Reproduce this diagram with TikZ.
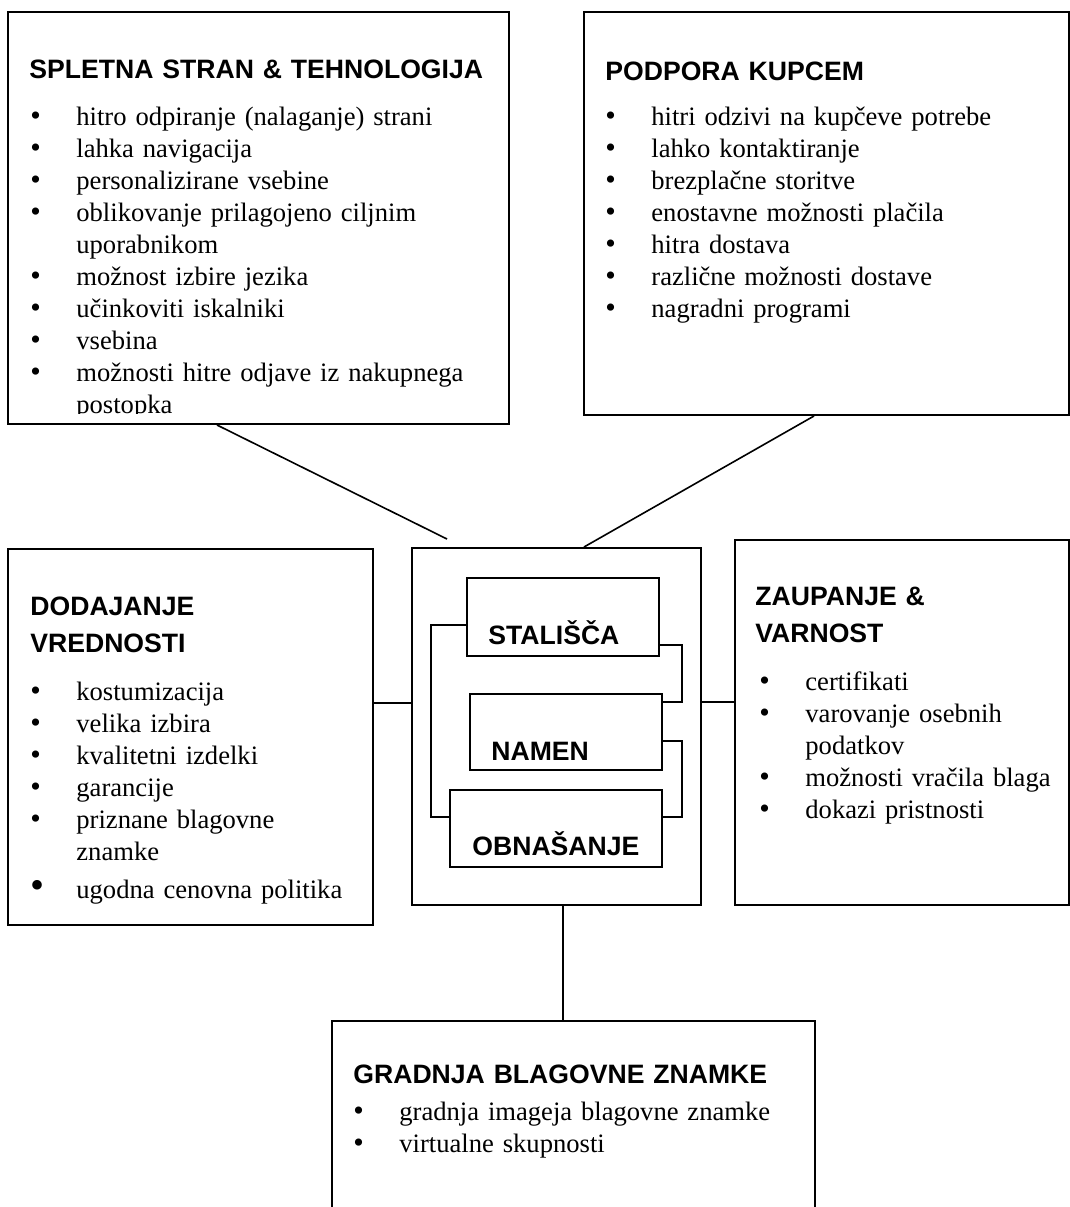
\documentclass[tikz,border=0pt]{standalone}
\usepackage{fontspec}
\setmainfont{Liberation Serif}
\newfontfamily\headfnt{Liberation Sans Bold}
\usetikzlibrary{fit}

\newcommand\bul{\makebox[23pt][l]{\fontsize{15}{16}\selectfont\textbullet}}
\newcommand\bigbul{\makebox[23pt][l]{\fontsize{20}{16}\selectfont\textbullet}}
\newcommand\cont{\hspace*{23pt}}

\begin{document}
\begin{tikzpicture}[x=0.5pt,y=-0.5pt,
 panel/.style={draw,line width=1pt,inner sep=0pt},
 heading/.style={anchor=base west,inner sep=0pt,align=left,text width=300pt,
   font=\headfnt\fontsize{13.3}{18.5}\selectfont},
 items/.style={anchor=base west,inner sep=0pt,align=left,text width=300pt,
   font=\fontsize{13.3}{16}\selectfont},
 core label/.style={anchor=base west,inner sep=0pt,
   font=\headfnt\fontsize{13.3}{14}\selectfont},
 link/.style={line width=0.8pt}]
 \useasboundingbox (0,0) rectangle (1070,1207);

 % outer panels
 \node[panel,fit={(8,12) (509,424)}] (web) {};
 \node[panel,fit={(584,12) (1069,415)}] (support) {};
 \node[panel,fit={(8,549) (373,925)}] (value) {};
 \node[panel,fit={(412,548) (701,905)}] (core) {};
 \node[panel,fit={(735,540) (1069,905)}] (trust) {};
 \node[panel,fit={(332,1021) (815,1230)}] (brand) {};

 % inner boxes
 \node[panel,fit={(467,578) (659,656)}] (stal) {};
 \node[panel,fit={(470,694) (662,770)}] (namen) {};
 \node[panel,fit={(450,790) (662,867)}] (obn) {};

 \node[core label] (stal text) at (488,644) {STALIŠČA};
 \node[core label] (namen text) at (491,760) {NAMEN};
 \node[core label] (obn text) at (472,855) {OBNAŠANJE};

 % panel texts
 \node[heading] (web title) at (29,78) {SPLETNA STRAN \& TEHNOLOGIJA};
 \begin{scope}
  \clip (web.north west) rectangle ([yshift=6pt]web.south east);
  \node[items] (web list) at (30,125) {\bul hitro odpiranje (nalaganje) strani\\
   \bul lahka navigacija\\
   \bul personalizirane vsebine\\
   \bul oblikovanje prilagojeno ciljnim\\
   \cont uporabnikom\\
   \bul možnost izbire jezika\\
   \bul učinkoviti iskalniki\\
   \bul vsebina\\
   \bul možnosti hitre odjave iz nakupnega\\
   \cont postopka};
 \end{scope}

 \node[heading] (support title) at (605,80) {PODPORA KUPCEM};
 \node[items] (support list) at (605,125) {\bul hitri odzivi na kupčeve potrebe\\
  \bul lahko kontaktiranje\\
  \bul brezplačne storitve\\
  \bul enostavne možnosti plačila\\
  \bul hitra dostava\\
  \bul različne možnosti dostave\\
  \bul nagradni programi};

 \node[heading] (value title) at (30,615) {DODAJANJE\\VREDNOSTI};
 \node[items] (value list) at (30,700) {\bul kostumizacija\\
  \bul velika izbira\\
  \bul kvalitetni izdelki\\
  \bul garancije\\
  \bul priznane blagovne\\
  \cont znamke\\[3pt]
  \bigbul ugodna cenovna politika};

 \node[heading] (trust title) at (755,605) {ZAUPANJE \&\\VARNOST};
 \node[items] (trust list) at (759,690) {\bul certifikati\\
  \bul varovanje osebnih\\
  \cont podatkov\\
  \bul možnosti vračila blaga\\
  \bul dokazi pristnosti};

 \node[heading] (brand title) at (353,1083) {GRADNJA BLAGOVNE ZNAMKE};
 \node[items] (brand list) at (353,1120) {\bul gradnja imageja blagovne znamke\\
  \bul virtualne skupnosti};

 % connectors
 \draw[link] ([xshift=105pt]web.south west) -- ([shift={(36,-8)}]core.north west);
 \draw[link] ([xshift=115.5pt]support.south west) -- ([xshift=86.5pt]core.north west);
 \coordinate (cL) at ([yshift=11.75pt]core.west);
 \draw[link] (cL) -- (cL -| value.east);
 \coordinate (cR) at ([yshift=12.25pt]core.east);
 \draw[link] (cR) -- (cR -| trust.west);
 \coordinate (cB) at ([xshift=3.25pt]core.south);
 \draw[link] (cB) -- (cB |- brand.north);

 \draw[link] ([yshift=-4pt]stal.west) -- ++(-35,0) |- ([yshift=5.75pt]obn.west);
 \draw[link] ([yshift=-14pt]stal.east) -- ++(22,0) |- ([yshift=15pt]namen.east);
 \draw[link] ([yshift=-4.5pt]namen.east) -- ++(19,0) |- ([yshift=5.75pt]obn.east);
\end{tikzpicture}
\end{document}
